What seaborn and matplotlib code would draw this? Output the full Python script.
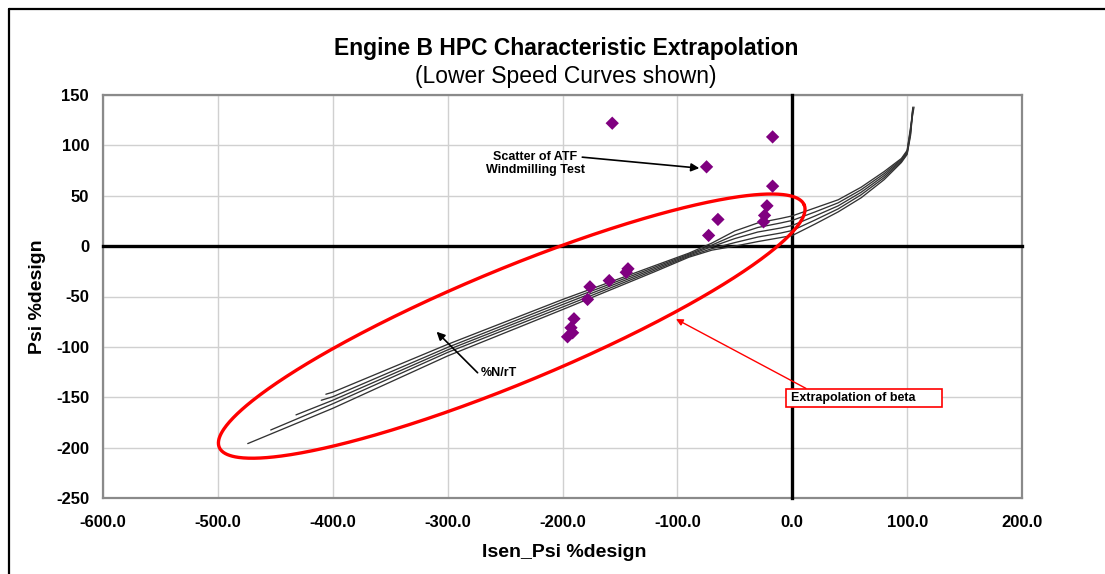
import numpy as np
import pandas as pd
import matplotlib
matplotlib.use("Agg")
import matplotlib.pyplot as plt
import seaborn as sns
from matplotlib.lines import Line2D
from matplotlib.patches import Rectangle
from matplotlib.ticker import FuncFormatter

# ---------------- data ----------------
atf_isen = [-156.7, -74.6, -17.1, -17.1, -22.0, -24.1, -25.0, -64.7, -72.8,
            -143.0, -144.5, -159.3, -176.1, -178.2, -190.0, -192.6, -191.2, -195.6]
atf_psi = [122.0, 78.7, 108.4, 59.5, 40.0, 30.5, 24.1, 26.5, 10.6,
           -22.5, -26.0, -34.2, -40.4, -52.9, -72.1, -81.0, -86.0, -90.0]

line1_x = [-474, -400, -300, -200, -120, -90, -70, -50, -30, -10, 0, 20, 40, 60, 80, 95, 100, 103, 105]
line1_y = [-196, -161, -109, -63, -25.5, -11, -4, 0, 4.5, 8.5, 10.5, 22, 34, 48, 66, 83, 91, 110, 135]
line2_x = [-454, -400, -300, -200, -120, -90, -70, -50, -30, -10, 0, 20, 40, 60, 80, 95, 100, 103, 105]
line2_y = [-182.5, -156.5, -105.5, -60.5, -24, -10, -2.5, 3.5, 9, 13, 15.5, 26, 37, 51, 68, 84, 92, 112, 136]
line3_x = [-432, -400, -300, -200, -120, -90, -70, -50, -30, -10, 0, 20, 40, 60, 80, 95, 100, 103, 105]
line3_y = [-167.5, -153, -103, -58, -22.5, -9, -0.5, 7.5, 14, 18, 20.5, 30, 40, 53.5, 70, 85, 93, 114, 137]
line4_x = [-410, -400, -300, -200, -120, -90, -70, -50, -30, -10, 0, 20, 40, 60, 80, 95, 100, 103, 105]
line4_y = [-153, -149.5, -100.5, -55.5, -21, -8, 1, 11, 18.5, 23, 25.5, 34, 43, 56, 72, 86, 94, 116, 138]
line5_x = [-406, -400, -300, -200, -120, -90, -70, -50, -30, -10, 0, 20, 40, 60, 80, 95, 100, 103, 106]
line5_y = [-147, -145, -97.5, -53, -19.5, -7, 3, 15, 23, 27.5, 30, 38, 46, 58.5, 74, 87, 95, 118, 138]

x_ticks = [-600, -500, -400, -300, -200, -100, 0, 100, 200]
y_ticks = [-250, -200, -150, -100, -50, 0, 50, 100, 150]

title = "Engine B HPC Characteristic Extrapolation"
subtitle = "(Lower Speed Curves shown)"
x_label = "Isen_Psi %design"
y_label = "Psi %design"

# ---------------- style ----------------
sns.set_style("white")
plt.rcParams['font.family'] = ['Liberation Sans', 'DejaVu Sans']
plt.rcParams['font.weight'] = 'bold'
plt.rcParams['text.color'] = 'black'
plt.rcParams['axes.labelcolor'] = 'black'
plt.rcParams['xtick.color'] = 'black'
plt.rcParams['ytick.color'] = 'black'

FW, FH = 1105, 574
fig = plt.figure(figsize=(FW / 100, FH / 100), dpi=100)
rect = [103 / FW, 1 - 498 / FH, 919 / FW, 403 / FH]

axB = fig.add_axes(rect)
axA = fig.add_axes(rect, sharex=axB, sharey=axB)
axA.patch.set_visible(False)

axB.set_xlim(-600, 200)
axB.set_ylim(-250, 150)
axB.set_xticks(x_ticks)
axB.set_yticks(y_ticks)
axB.xaxis.set_major_formatter(FuncFormatter(lambda v, p: f"{v:.1f}"))
axB.yaxis.set_major_formatter(FuncFormatter(lambda v, p: f"{v:.0f}"))
axB.grid(True, color='#d0d0d0', lw=1.0)
axB.set_axisbelow(True)
for s in axB.spines.values():
    s.set_color('#8a8a8a')
    s.set_linewidth(1.6)
axB.tick_params(axis='both', length=0, labelsize=12, labelcolor='black')
axB.tick_params(axis='y', pad=10)
axB.tick_params(axis='x', pad=12)

# zero axes overlay
for side in ['top', 'right']:
    axA.spines[side].set_visible(False)
axA.spines['left'].set_position(('data', 0))
axA.spines['bottom'].set_position(('data', 0))
for side in ['left', 'bottom']:
    axA.spines[side].set_color('black')
    axA.spines[side].set_linewidth(2.4)
axA.tick_params(axis='both', direction='out', length=5, width=1.8, color='black',
                labelleft=False, labelbottom=False)
axA.grid(False)

# ---------------- speed lines ----------------
frames = []
for i, (xs, ys) in enumerate([(line1_x, line1_y), (line2_x, line2_y), (line3_x, line3_y),
                              (line4_x, line4_y), (line5_x, line5_y)]):
    frames.append(pd.DataFrame({'isen': xs, 'psi': ys, 'curve': f"c{i+1}"}))
df_lines = pd.concat(frames, ignore_index=True)
sns.lineplot(data=df_lines, x='isen', y='psi', hue='curve', estimator=None, sort=False,
             palette=['#333333'] * 5, legend=False, lw=0.95, ax=axA, zorder=3)

# ---------------- scatter ----------------
sns.scatterplot(x=atf_isen, y=atf_psi, marker='D', s=46, color='#800080',
                edgecolor='none', linewidth=0, ax=axA, zorder=5)
axA.set_xlabel('')
axA.set_ylabel('')

# ---------------- ellipse (in pixel geometry) ----------------
ell_cx, ell_cy = -244.2, -79.4
ell_a_px, ell_b_px, ell_angle = 316.6, 57.0, 22.5
sx = rect[2] * FW / 800.0
sy = rect[3] * FH / 400.0
t = np.linspace(0, 2 * np.pi, 600)
th = np.deg2rad(ell_angle)
ex = ell_cx + (ell_a_px * np.cos(t) * np.cos(th) - ell_b_px * np.sin(t) * np.sin(th)) / sx
ey = ell_cy + (ell_a_px * np.cos(t) * np.sin(th) + ell_b_px * np.sin(t) * np.cos(th)) / sy
axA.plot(ex, ey, color='#ff0000', lw=2.4, zorder=4)

# ---------------- annotations ----------------
axA.annotate("", xy=(-80.9, 77.4), xytext=(-182.8, 88.3),
             arrowprops=dict(arrowstyle='-|>', color='black', lw=1.2, mutation_scale=12,
                             shrinkA=0, shrinkB=0), zorder=6)
axA.text(-223.7, 82.3, "Scatter of ATF\nWindmilling Test", ha='center', va='center',
         fontsize=9, fontweight='bold', linespacing=1.15, zorder=6)

axA.annotate("", xy=(-309.6, -85.0), xytext=(-273.9, -125.7),
             arrowprops=dict(arrowstyle='-|>', color='black', lw=1.2, mutation_scale=12,
                             shrinkA=0, shrinkB=0), zorder=6)
axA.text(-270.9, -126.3, "%N/rT", ha='left', va='center', fontsize=9,
         fontweight='bold', zorder=6)

axA.annotate("", xy=(-101.2, -72.4), xytext=(11.9, -141.2),
             arrowprops=dict(arrowstyle='-|>', color='#ff0000', lw=1.0, mutation_scale=10,
                             shrinkA=0, shrinkB=0), zorder=6)
axA.add_patch(Rectangle((-5.2, -159.4), 135.7, 17.5, facecolor='white',
                        edgecolor='#ff0000', lw=1.2, zorder=6))
axA.text(-1.5, -150.6, "Extrapolation of beta", ha='left', va='center', fontsize=9,
         fontweight='bold', zorder=7)

# ---------------- labels / titles ----------------
axB.set_xlabel(x_label, fontsize=14, fontweight='bold')
axB.xaxis.set_label_coords(0.502, -0.115)
axB.set_ylabel(y_label, fontsize=14, fontweight='bold')
axB.yaxis.set_label_coords(-0.062, 0.5)

fig.text(566 / FW, 1 - 48 / FH, title, ha='center', va='center', fontsize=16.5,
         fontweight='bold')
fig.text(566 / FW, 1 - 77 / FH, subtitle, ha='center', va='center', fontsize=16.5,
         fontweight='normal')

# outer border (left and top)
fig.add_artist(Line2D([8.5 / FW, 8.5 / FW], [0, 1 - 9 / FH], color='black', lw=1.6,
                      transform=fig.transFigure))
fig.add_artist(Line2D([8.5 / FW, 1], [1 - 9 / FH, 1 - 9 / FH], color='black', lw=1.6,
                      transform=fig.transFigure))

fig.savefig('out.png', dpi=100)
